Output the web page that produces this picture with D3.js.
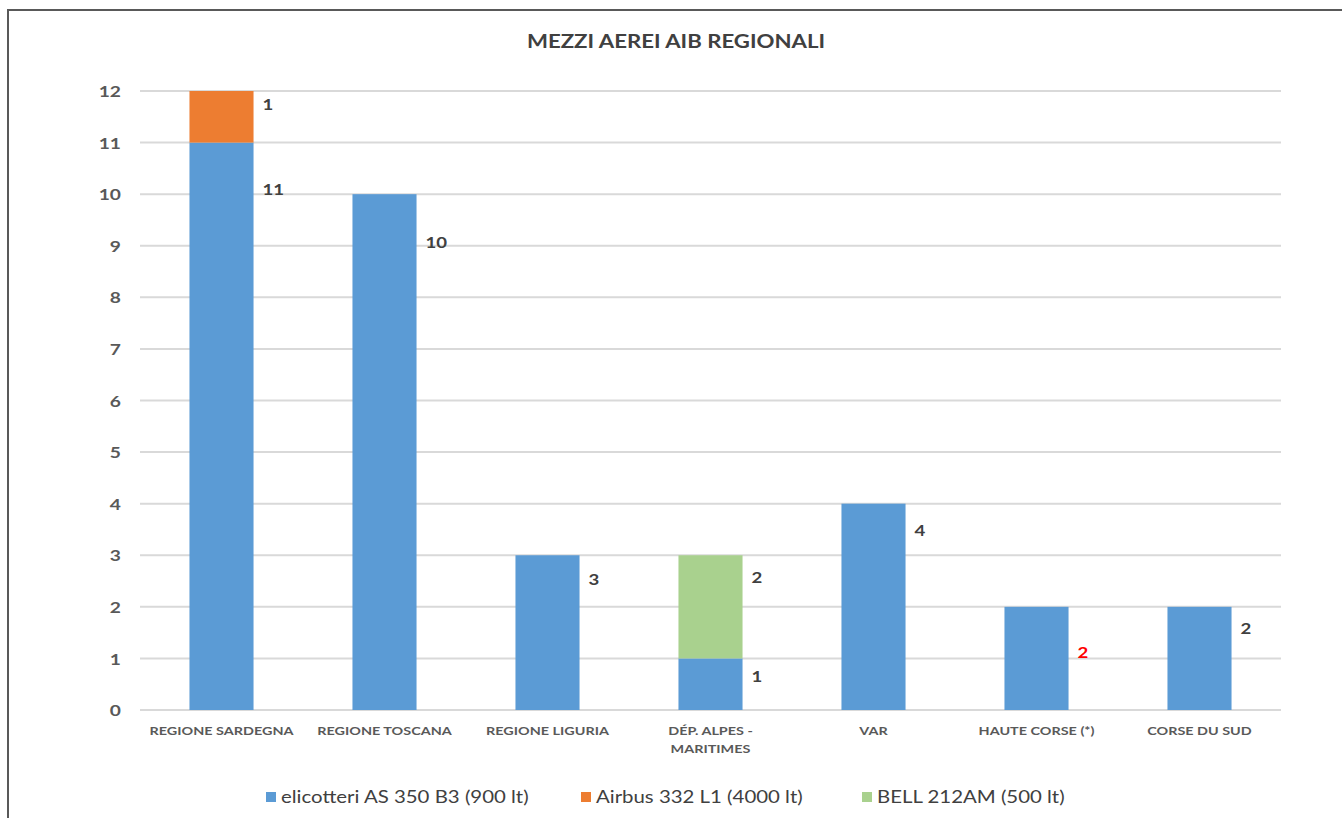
<!DOCTYPE html>
<html><head><meta charset="utf-8">
<script src="https://cdn.jsdelivr.net/npm/d3@7"></script>
<style>body{margin:0;background:#fff}svg{display:block}</style>
</head><body>
<svg id="c" width="1342" height="818"></svg>
<script>
const categories = ["REGIONE SARDEGNA","REGIONE TOSCANA","REGIONE LIGURIA","DÉP. ALPES - MARITIMES","VAR","HAUTE CORSE (*)","CORSE DU SUD"];
const seriesNames = ["elicotteri AS 350 B3 (900 lt)","Airbus 332 L1 (4000 lt)","BELL 212AM (500 lt)"];
const elicotteri = [11,10,3,1,4,2,2];
const airbus = [1,0,0,0,0,0,0];
const bell = [0,0,0,2,0,0,0];
const yTicks = [0,1,2,3,4,5,6,7,8,9,10,11,12];
// label anchor values (data units) as placed in the original
const labelElic = [10.08,9.07,2.52,0.64,3.47,1.12,1.57];
const labelAirbus = [11.73,null,null,null,null,null,null];
const labelBell = [null,null,null,2.56,null,null,null];
const labelColorElic = ["#404040","#404040","#404040","#404040","#404040","#FF0000","#404040"];

const colors = ["#5B9BD5","#ED7D31","#A9D18E"];
const font = "Lato, 'Open Sans', sans-serif";
const SX = 1.2; // horizontal stretch of the original's text
const svg = d3.select("#c");
const W = 1342, H = 818;
const m = {left:140, right:1281, top:91, bottom:710};

function stretchedText(g, x, y, txt, anchor){
  return g.append("text").attr("transform",`translate(${x},${y}) scale(${SX},1)`)
    .attr("text-anchor",anchor||"start").text(txt);
}

// frame
svg.append("path").attr("d",`M8,${H} L8,10 L${W},10`).attr("fill","none").attr("stroke","#595959").attr("stroke-width",2);

const x = d3.scaleBand().domain(categories).range([m.left,m.right]).paddingInner(0.607).paddingOuter(0.3035);
const y = d3.scaleLinear().domain([0,12]).range([m.bottom,m.top]);

// grid
svg.append("g").selectAll("line").data(yTicks).join("line")
  .attr("x1",m.left).attr("x2",m.right).attr("y1",d=>y(d)).attr("y2",d=>y(d))
  .attr("stroke","#D9D9D9").attr("stroke-width",2);

// y axis labels
const yAxis = d3.axisLeft(y).tickValues(yTicks).tickSize(0).tickPadding(0);
const yg = svg.append("g").attr("transform",`translate(${m.left-19},0)`).call(yAxis);
yg.select(".domain").remove();
yg.selectAll("text").attr("font-family",font).attr("font-size",16).attr("font-weight",700).attr("fill","#595959")
  .attr("x",0).attr("dy","0.35em").attr("transform",`scale(${SX},1)`);

// stacked bars
const rows = categories.map((c,i)=>({cat:c, e:elicotteri[i], a:airbus[i], b:bell[i]}));
const stack = d3.stack().keys(["e","a","b"])(rows);
svg.append("g").selectAll("g").data(stack).join("g").attr("fill",(d,i)=>colors[i])
  .selectAll("rect").data(d=>d.filter(p=>p[1]-p[0]>0)).join("rect")
  .attr("x",d=>x(d.data.cat)).attr("width",x.bandwidth())
  .attr("y",d=>y(d[1])).attr("height",d=>y(d[0])-y(d[1]));

// data labels
const lab = svg.append("g").attr("font-family",font).attr("font-size",15.5).attr("font-weight",700);
function addLabels(vals, pos, colorsArr){
  categories.forEach((c,i)=>{
    if(!vals[i] || pos[i]==null) return;
    stretchedText(lab, x(c)+x.bandwidth()+9, y(pos[i]), vals[i]).attr("dy","0.35em")
      .attr("fill",colorsArr? colorsArr[i] : "#404040");
  });
}
addLabels(elicotteri,labelElic,labelColorElic);
addLabels(airbus,labelAirbus);
addLabels(bell,labelBell);

// x labels
const xl = svg.append("g").attr("font-family",font).attr("font-size",12).attr("font-weight",700).attr("fill","#595959");
categories.forEach(c=>{
  const cx = x(c)+x.bandwidth()/2;
  const lines = c==="DÉP. ALPES - MARITIMES" ? ["DÉP. ALPES -","MARITIMES"] : [c];
  lines.forEach((t,j)=>{
    stretchedText(xl, cx, 735+j*18, t, "middle");
  });
});

// title
stretchedText(svg, 676, 48, "MEZZI AEREI AIB REGIONALI", "middle").attr("font-family",font)
  .attr("font-size",18.5).attr("font-weight",700).attr("fill","#404040");

// legend
const legX = [266,581,862];
const lg = svg.append("g").attr("font-family",font).attr("font-size",17).attr("font-weight",400).attr("fill","#404040");
seriesNames.forEach((s,i)=>{
  lg.append("rect").attr("x",legX[i]).attr("y",792).attr("width",10).attr("height",10).attr("fill",colors[i]);
  stretchedText(lg, legX[i]+15, 797, s).attr("dy","0.35em");
});
</script>
</body></html>
